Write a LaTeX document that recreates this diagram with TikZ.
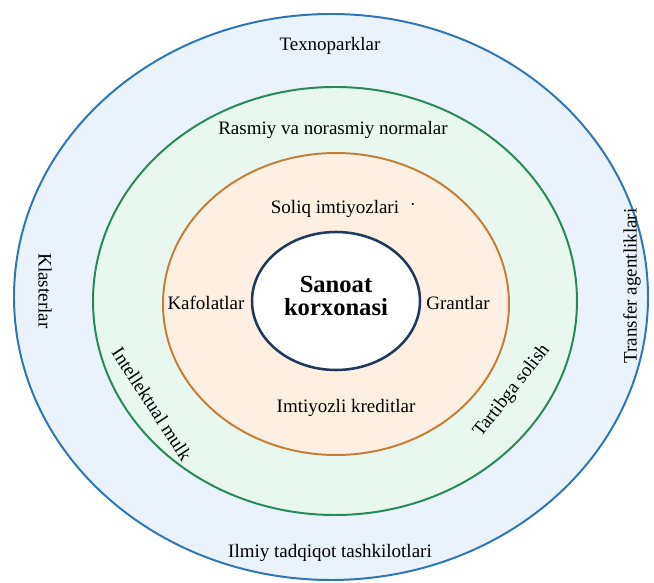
\documentclass[tikz,border=0pt]{standalone}
\usepackage{fontspec}
\setmainfont{Liberation Serif}
\usepackage{tikz}

\definecolor{ringblue}{RGB}{46,117,182}
\definecolor{fillblue}{RGB}{234,242,251}
\definecolor{ringgreen}{RGB}{38,138,86}
\definecolor{fillgreen}{RGB}{232,248,239}
\definecolor{ringorange}{RGB}{196,126,56}
\definecolor{fillorange}{RGB}{253,240,226}
\definecolor{ringnavy}{RGB}{31,56,92}

\tikzset{
  lbl/.style={font=\fontsize{13.5}{16}\selectfont, inner sep=1pt},
  core/.style={font=\fontsize{17.5}{19}\selectfont\bfseries, align=center}
}

\begin{document}
\begin{tikzpicture}[x=0.025cm, y=-0.025cm]
\useasboundingbox (0,0) rectangle (654,583);

% Rings
\draw [line width=1.4pt, draw=ringblue, fill=fillblue] (331, 297) ellipse (317 and 283);
\draw [line width=1.4pt, draw=ringgreen, fill=fillgreen] (335, 301) ellipse (242 and 214);
\draw [line width=1.4pt, draw=ringorange, fill=fillorange] (336, 304) ellipse (173 and 151);
\draw [line width=1.8pt, draw=ringnavy, fill=white] (336, 301) ellipse (84 and 69);

% Outer ring
\node [lbl] (texno) at (330, 46) {Texnoparklar};
\node [lbl, rotate=-90] (klaster) at (45, 291) {Klasterlar};
\node [lbl, rotate=90] (transfer) at (632, 286) {Transfer agentliklari};
\node [lbl] (ilmiy) at (330, 553) {Ilmiy tadqiqot tashkilotlari};

% Middle ring
\node [lbl] (normalar) at (333, 130) {Rasmiy va norasmiy normalar};
\node [lbl, rotate=-57] (intel) at (152, 404) {Intellektual mulk};
\node [lbl, rotate=52] (tartib) at (512, 391) {Tartibga solish};

% Inner ring
\node [lbl] (soliq) at (335, 209) {Soliq imtiyozlari};
\node [lbl] (dot) at (413, 205) {$\cdot$};
\node [lbl] (kafolat) at (206, 303) {Kafolatlar};
\node [lbl] (grant) at (458, 303) {Grantlar};
\node [lbl] (kredit) at (346, 408) {Imtiyozli kreditlar};

% Centre
\node [core] (sanoat) at (336, 296) {Sanoat\\[-3pt]korxonasi};

\end{tikzpicture}
\end{document}
